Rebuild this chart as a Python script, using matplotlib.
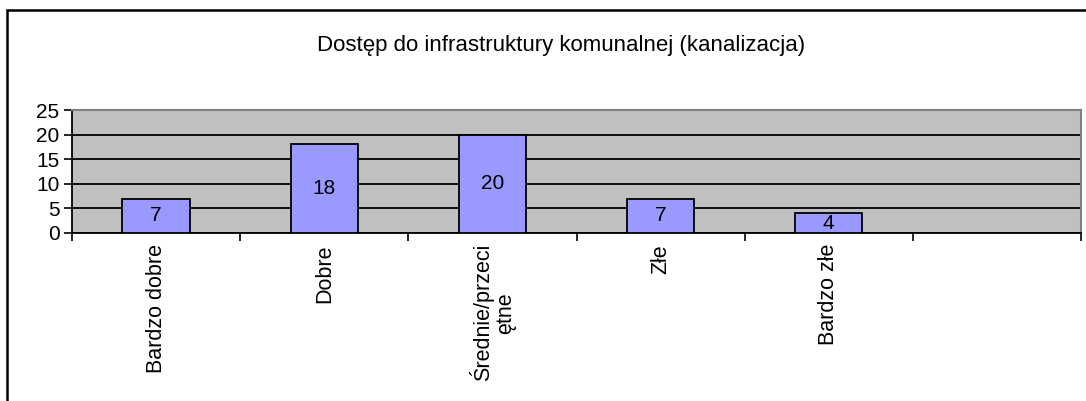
import numpy as np
import matplotlib as mpl
import matplotlib.pyplot as plt
from matplotlib.patches import Rectangle
mpl.use('agg')

categories = ['Bardzo dobre', 'Dobre', 'Średnie/przeci\nętne', 'Złe', 'Bardzo złe']
values = [7, 18, 20, 7, 4]
n_slots = 6  # one empty slot at the end
yticks = [0, 5, 10, 15, 20, 25]

plt.rcParams['font.family'] = ['Liberation Sans', 'DejaVu Sans']

fig = plt.figure(figsize=(10.86, 4.01), dpi=100)

# outer chart frame (left and top edges visible)
fig.add_artist(Rectangle((7/1086, -0.1), 1.2, 1.1 - 10/401,
                         transform=fig.transFigure, fill=False,
                         edgecolor='black', linewidth=1.8))

ax = fig.add_axes([72/1086, 1 - 233/401, (1081 - 72)/1086, (233 - 110)/401])
ax.set_facecolor('#c0c0c0')
ax.set_xlim(0, n_slots)
ax.set_ylim(0, 25)

x = np.arange(len(values)) + 0.5
ax.set_axisbelow(True)
ax.yaxis.grid(True, color='black', linewidth=1.3)
ax.bar(x, values, width=0.4, color='#9999ff', edgecolor='black', linewidth=1.3, zorder=3)
for xi, v in zip(x, values):
    ax.text(xi, v / 2, str(v), ha='center', va='center', fontsize=15, zorder=4)

ax.set_yticks(yticks)
ax.set_yticklabels([str(t) for t in yticks], fontsize=15)
ax.set_xticks(np.arange(n_slots + 1))
ax.set_xticklabels([])
ax.tick_params(axis='both', direction='out', length=6, width=1.2, color='black')
ax.tick_params(axis='y', pad=3)

for xi, lab in zip(x, categories):
    ax.annotate(lab, xy=(xi, 0), xycoords=('data', 'axes fraction'),
                xytext=(0, -8), textcoords='offset points',
                rotation=90, ha='center', va='top', fontsize=15.5,
                multialignment='center', linespacing=1.1)

ax.spines['left'].set_linewidth(1.3)
ax.spines['bottom'].set_linewidth(1.3)
ax.spines['top'].set_color('#808080')
ax.spines['right'].set_color('#808080')
ax.spines['top'].set_linewidth(1.5)
ax.spines['right'].set_linewidth(1.5)

fig.text(561/1086, 1 - 45/401, 'Dostęp do infrastruktury komunalnej (kanalizacja)',
         ha='center', va='center', fontsize=16)

fig.savefig('out.png', dpi=100)
